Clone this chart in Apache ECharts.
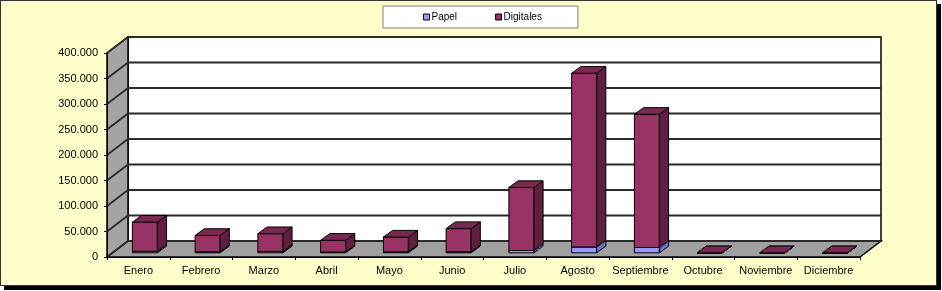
<!DOCTYPE html>
<html>
<head>
<meta charset="utf-8">
<script src="https://cdn.jsdelivr.net/npm/echarts@6/dist/echarts.min.js"></script>
<style>
  html, body { margin: 0; padding: 0; background: #ffffff; }
  #frame { position: absolute; left: 0; top: 0; width: 935px; height: 284px;
           background: #FFFFCC; border: 1px solid #333; box-shadow: 4px 4px 0 #000; }
  #chart { position: absolute; left: 0; top: 0; width: 942px; height: 291px; }
</style>
</head>
<body>
<div id="frame"></div>
<div id="chart"></div>
<script>
// ---- data ----
const categories = ['Enero', 'Febrero', 'Marzo', 'Abril', 'Mayo', 'Junio', 'Julio', 'Agosto', 'Septiembre', 'Octubre', 'Noviembre', 'Diciembre'];
const papel = [3000, 2000, 2500, 1500, 1800, 2000, 4500, 11500, 10500, 0, 0, 0];
const digitales = [57000, 32000, 35000, 23000, 29000, 45500, 123500, 340500, 261000, 0, 0, 0];
const yTicks = [0, 50000, 100000, 150000, 200000, 250000, 300000, 350000, 400000];

// ---- 3D look (style constants) ----
const DX = 21, DY = -16;          // wall depth offset
const BW = 25;                     // bar front width
const F1X = 6.5, F1Y = -4.2;       // bar front plane offset
const BDX = 9.2, BDY = -6.7;       // bar depth
const FONT = 'Liberation Sans, Arial, sans-serif';

const papelData = papel.map((v, i) => [i, 0, v]);
const digData = digitales.map((v, i) => [i, papel[i], papel[i] + digitales[i]]);

function fmt(v) { return String(v).replace(/\B(?=(\d{3})+(?!\d))/g, '.'); }

function barRenderer(front, top, side) {
  return function (params, api) {
    const i = api.value(0), b = api.value(1), t = api.value(2);
    const pb = api.coord([i, b]);
    const pt = api.coord([i, t]);
    const xl = pb[0] - BW / 2 + F1X, xr = xl + BW;
    const yb = pb[1] + F1Y, yt = pt[1] + F1Y;
    const st = { stroke: '#000', lineWidth: 1, lineJoin: 'round' };
    return {
      type: 'group',
      children: [
        { type: 'rect', shape: { x: xl, y: yt, width: BW, height: yb - yt }, style: Object.assign({ fill: front }, st) },
        { type: 'polygon', shape: { points: [[xr, yt], [xr + BDX, yt + BDY], [xr + BDX, yb + BDY], [xr, yb]] }, style: Object.assign({ fill: side }, st) },
        { type: 'polygon', shape: { points: [[xl, yt], [xr, yt], [xr + BDX, yt + BDY], [xl + BDX, yt + BDY]] }, style: Object.assign({ fill: top }, st) }
      ]
    };
  };
}

const chart = echarts.init(document.getElementById('chart'), null, { renderer: 'canvas' });
chart.setOption({
  backgroundColor: 'transparent',
  animation: false,
  textStyle: { fontFamily: FONT },
  legend: {
    left: 383, top: 6,
    padding: [6, 36, 6, 40],
    backgroundColor: '#fff',
    borderColor: '#808080',
    borderWidth: 1,
    borderRadius: 0,
    itemWidth: 6, itemHeight: 6, itemGap: 38,
    icon: 'rect',
    textStyle: { fontFamily: FONT, fontSize: 10, color: '#000', padding: [0, 0, 0, -3] },
    data: [
      { name: 'Papel', itemStyle: { color: '#9999FF', borderColor: '#000', borderWidth: 1 } },
      { name: 'Digitales', itemStyle: { color: '#993366', borderColor: '#000', borderWidth: 1 } }
    ]
  },
  grid: { left: 107, right: 82, top: 53, bottom: 34, outerBoundsMode: 'none', containLabel: false },
  xAxis: {
    type: 'category', data: categories, z: 5,
    axisLine: { show: true, lineStyle: { color: '#000', width: 1 } },
    axisTick: { show: true, length: 3, lineStyle: { color: '#000' } },
    axisLabel: { color: '#000', fontSize: 11, margin: 8, fontFamily: FONT, interval: 0 },
    splitLine: { show: false }
  },
  yAxis: {
    type: 'value', min: 0, max: 400000, interval: 50000, z: 5,
    axisLine: { show: true, lineStyle: { color: '#000', width: 1 } },
    axisTick: { show: true, length: 3, lineStyle: { color: '#000' } },
    axisLabel: { color: '#000', fontSize: 11, margin: 9, fontFamily: FONT, formatter: fmt },
    splitLine: { show: false }
  },
  series: [
    {
      type: 'custom', name: 'walls', z: 1, silent: true,
      data: [[0, 0]],
      renderItem: function (params, api) {
        const cs = params.coordSys;
        const x = cs.x, y = cs.y, w = cs.width, h = cs.height;
        const st = { stroke: '#000', lineWidth: 1.5 };
        return {
          type: 'group',
          children: [
            { type: 'rect', shape: { x: x + DX, y: y + DY, width: w, height: h }, style: Object.assign({ fill: '#fff' }, st) },
            { type: 'polygon', shape: { points: [[x, y + h], [x, y], [x + DX, y + DY], [x + DX, y + h + DY]] }, style: Object.assign({ fill: '#A4A4A4' }, st) },
            { type: 'polygon', shape: { points: [[x, y + h], [x + DX, y + h + DY], [x + w + DX, y + h + DY], [x + w, y + h]] }, style: Object.assign({ fill: '#A0A0A0' }, st) }
          ]
        };
      }
    },
    {
      type: 'custom', name: 'gridlines', z: 2, silent: true,
      data: yTicks.map(v => [0, v]),
      renderItem: function (params, api) {
        const cs = params.coordSys;
        const py = api.coord([0, api.value(1)])[1];
        const st = { stroke: '#2a2a2a', lineWidth: 1.8 };
        return {
          type: 'group',
          children: [
            { type: 'line', shape: { x1: cs.x + DX, y1: py + DY, x2: cs.x + cs.width + DX, y2: py + DY }, style: st },
            { type: 'line', shape: { x1: cs.x, y1: py, x2: cs.x + DX, y2: py + DY }, style: st }
          ]
        };
      }
    },
    {
      type: 'custom', name: 'Papel', z: 3,
      itemStyle: { color: '#9999FF' },
      encode: { x: 0, y: [1, 2] },
      data: papelData,
      renderItem: barRenderer('#9999FF', '#8080E0', '#7070C8')
    },
    {
      type: 'custom', name: 'Digitales', z: 3,
      itemStyle: { color: '#993366' },
      encode: { x: 0, y: [1, 2] },
      data: digData,
      renderItem: barRenderer('#993366', '#7A2852', '#601F40')
    }
  ]
});
</script>
</body>
</html>
